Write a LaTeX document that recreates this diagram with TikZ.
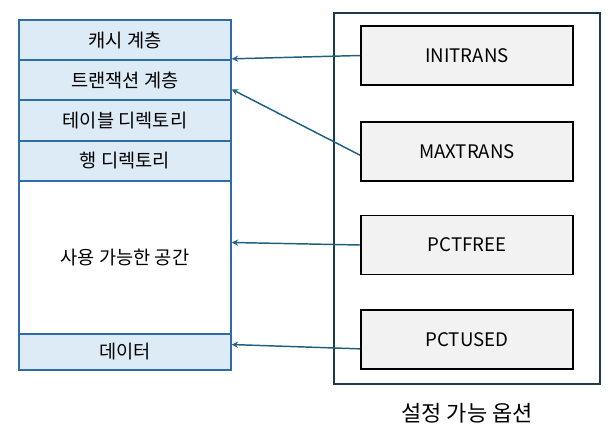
\documentclass[tikz,border=0pt]{standalone}
\usepackage{fontspec}
\setmainfont{Noto Sans CJK KR}
\usepackage[dvipsnames]{xcolor}
\usetikzlibrary{shapes, arrows}
\definecolor{layerblue}{HTML}{DDEBF7}
\definecolor{layerline}{HTML}{2F6CA6}
\definecolor{optline}{HTML}{1F3A4A}
\definecolor{optfill}{HTML}{F2F2F2}
\definecolor{linkteal}{HTML}{1F5F80}
\tikzstyle{layer} = [rectangle, minimum width=159pt, minimum height=30pt, inner sep=0pt, text centered, draw=layerline, line width=1.2pt, fill=layerblue]
\tikzstyle{freelayer} = [layer, minimum height=114.75pt, fill=white]
\tikzstyle{option} = [rectangle, minimum width=159pt, minimum height=44.25pt, inner sep=0pt, text centered, draw=black, line width=1.3pt, fill=optfill]
\tikzstyle{group} = [rectangle, minimum width=199.5pt, minimum height=278.25pt, inner sep=0pt, draw=optline, line width=1.5pt]
\tikzstyle{arrow} = [line width=1.1pt, draw=linkteal, ->, >=stealth]

\begin{document}
\begin{tikzpicture}[x=0.75pt, y=0.75pt, yscale=-1, font=\fontsize{14}{16}\selectfont]

\useasboundingbox (0, 0) rectangle (615, 437);

\node at (467, 198.5) (group) [group] {};

\node at (125, 40) (cache) [layer] {캐시 계층};
\node at (125, 80) (trans) [layer] {트랜잭션 계층};
\node at (125, 120.5) (table) [layer, minimum height=30.75pt] {테이블 디렉토리};
\node at (125, 161) (row) [layer] {행 디렉토리};
\node at (125, 257.5) (free) [freelayer] {사용 가능한 공간};
\node at (125, 352) (data) [layer, minimum height=27pt] {데이터};

\node at (467, 55.5) (initrans) [option] {INITRANS};
\node at (467, 151.5) (maxtrans) [option] {MAXTRANS};
\node at (467, 245) (pctfree) [option] {PCTFREE};
\node at (467, 339.5) (pctused) [option] {PCTUSED};

\node at (467, 413) (grouplabel) [font=\fontsize{16.5}{18}\selectfont] {설정 가능 옵션};

\draw [arrow] (initrans.west) -- (cache.-10);
\draw [arrow] (maxtrans.182) -- (trans.-5);
\draw [arrow] (pctfree.west) -- (free.8);
\draw [arrow] (pctused.-175) -- (data.4);

\end{tikzpicture}
\end{document}
